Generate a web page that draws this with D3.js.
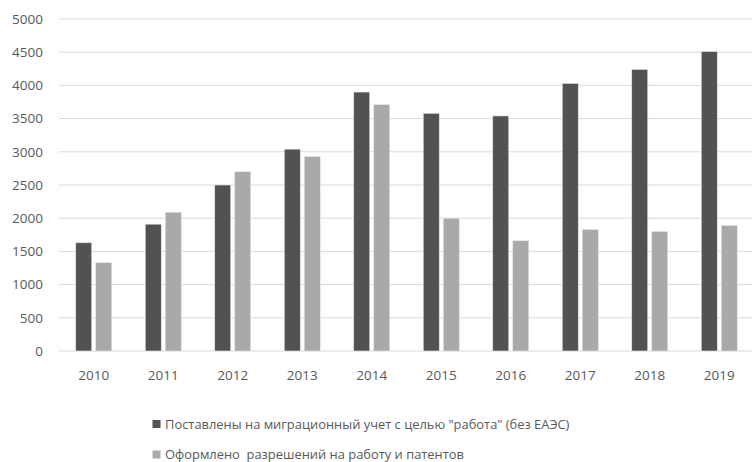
<!DOCTYPE html>
<html><head><meta charset="utf-8">
<script src="https://cdn.jsdelivr.net/npm/d3@7"></script>
<style>
html,body{margin:0;padding:0;background:#fff;}
text{font-family:"Open Sans",sans-serif;fill:#595959;}
</style></head>
<body>
<svg id="c" width="752" height="462"></svg>
<script>
const years = ["2010","2011","2012","2013","2014","2015","2016","2017","2018","2019"];
const registered = [1630,1910,2500,3040,3900,3580,3540,4030,4240,4510];
const permits = [1330,2090,2700,2930,3710,2000,1660,1830,1800,1890];
const seriesNames = ['Поставлены на миграционный учет с целью "работа" (без ЕАЭС)', 'Оформлено  разрешений на работу и патентов'];
const seriesColors = ["#525252","#a9a9a9"];
const yTicks = [0,500,1000,1500,2000,2500,3000,3500,4000,4500,5000];

const svg = d3.select("#c");
const y = d3.scaleLinear().domain([0,5000]).range([351,19]);
const x = d3.scaleBand().domain(years).range([59,754]).paddingInner(0.482).paddingOuter(0.241);
const xs = d3.scaleBand().domain([0,1]).range([0,x.bandwidth()]).paddingInner(0.2);

// gridlines
svg.append("g").selectAll("line").data(yTicks).join("line")
  .attr("x1",59).attr("x2",752)
  .attr("y1",d=>y(d)).attr("y2",d=>y(d))
  .attr("stroke","#d9d9d9").attr("stroke-width",1);

// y axis labels
const yAxis = d3.axisLeft(y).tickValues(yTicks).tickFormat(d3.format("d")).tickSize(0).tickPadding(0);
const ya = svg.append("g").attr("transform","translate(43,0)").call(yAxis);
ya.select(".domain").remove();
ya.selectAll("text").attr("font-size","13.5px").attr("fill","#595959").style("font-family","'Open Sans',sans-serif");

// x axis labels
const xAxis = d3.axisBottom(x).tickSize(0).tickPadding(0);
const xa = svg.append("g").attr("transform","translate(0,370)").call(xAxis);
xa.select(".domain").remove();
xa.selectAll("text").attr("font-size","13.5px").attr("fill","#595959").style("font-family","'Open Sans',sans-serif");

// bars
const seriesData = [registered, permits];
seriesData.forEach((vals,si)=>{
  svg.append("g").selectAll("rect").data(vals).join("rect")
    .attr("x",(d,i)=>x(years[i])+xs(si))
    .attr("width",xs.bandwidth())
    .attr("y",d=>y(d))
    .attr("height",d=>y(0)-y(d))
    .attr("fill",seriesColors[si])
    .attr("stroke","#e6e6e6").attr("stroke-width",0.6);
});

// legend
const leg = svg.append("g");
const legY = [424, 454.5];
seriesNames.forEach((n,i)=>{
  leg.append("rect").attr("x",152.5).attr("y",legY[i]-4).attr("width",8).attr("height",8).attr("fill",seriesColors[i]);
  leg.append("text").attr("x",165).attr("y",legY[i]).attr("dy","0.35em")
    .attr("font-size","12.9px").attr("fill","#404040").style("white-space","pre").text(n);
});
</script>
</body></html>
